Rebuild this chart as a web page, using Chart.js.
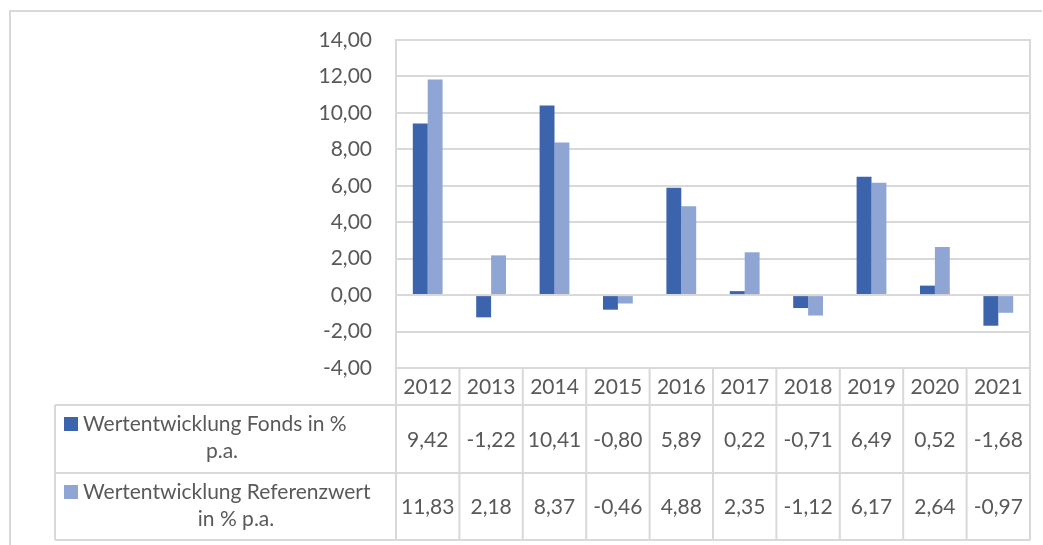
<!DOCTYPE html>
<html>
<head>
<meta charset="utf-8">
<script src="https://cdn.jsdelivr.net/npm/chart.js@4"></script>
<style>
  html, body { margin: 0; padding: 0; background: #fff; }
  #wrap { width: 1043px; height: 545px; position: relative; }
</style>
</head>
<body>
<div id="wrap"><canvas id="chart"></canvas></div>
<script>
// data
const years = ["2012", "2013", "2014", "2015", "2016", "2017", "2018", "2019", "2020", "2021"];
const fonds = [9.42, -1.22, 10.41, -0.80, 5.89, 0.22, -0.71, 6.49, 0.52, -1.68];
const referenz = [11.83, 2.18, 8.37, -0.46, 4.88, 2.35, -1.12, 6.17, 2.64, -0.97];
const seriesNames = [
  ["Wertentwicklung Fonds in %", "p.a."],
  ["Wertentwicklung Referenzwert", "in % p.a."],
];

const colDark = "#3c64ad";
const colLight = "#8fa6d5";
const gridCol = "#d9d9d9";
const textCol = "#595959";
const fontFam = "Lato, 'Open Sans', sans-serif";
const fontSize = 21;

const fmt = (v) => v.toFixed(2).replace(".", ",");

// draws the frame, plot border and the data table under the bars
const tablePlugin = {
  id: "dataTable",
  afterDraw(chart) {
    const ctx = chart.ctx;
    const area = chart.chartArea;
    const x = chart.scales.x;
    const colW = (area.right - area.left) / years.length;
    const legendLeft = 55;
    const rows = [area.bottom, 405, 473, 540];

    ctx.save();
    ctx.strokeStyle = gridCol;
    ctx.lineWidth = 2;

    // outer frame
    ctx.beginPath();
    ctx.moveTo(10, 545);
    ctx.lineTo(10, 11);
    ctx.lineTo(1042, 11);
    ctx.stroke();

    // plot border
    ctx.strokeRect(area.left, area.top, area.right - area.left, area.bottom - area.top);

    // table horizontal lines
    ctx.beginPath();
    for (let r = 1; r < rows.length; r++) {
      ctx.moveTo(legendLeft, rows[r]);
      ctx.lineTo(area.right, rows[r]);
    }
    // table vertical lines
    for (let i = 0; i <= years.length; i++) {
      const cx = area.left + i * colW;
      ctx.moveTo(cx, area.bottom);
      ctx.lineTo(cx, rows[3]);
    }
    ctx.moveTo(legendLeft, rows[1]);
    ctx.lineTo(legendLeft, rows[3]);
    ctx.stroke();

    // texts
    ctx.fillStyle = textCol;
    ctx.font = fontSize + "px " + fontFam;
    ctx.textAlign = "center";
    ctx.textBaseline = "middle";
    const series = [fonds, referenz];
    years.forEach((y, i) => {
      const cx = x.getPixelForValue(i);
      ctx.fillText(y, cx, (rows[0] + rows[1]) / 2 + 1);
      ctx.fillText(fmt(series[0][i]), cx, (rows[1] + rows[2]) / 2 + 1);
      ctx.fillText(fmt(series[1][i]), cx, (rows[2] + rows[3]) / 2 + 1);
    });

    // legend cells
    const keys = [colDark, colLight];
    const lineY = [[424, 451], [492, 519]];
    const line2X = [222, 236];
    seriesNames.forEach((name, s) => {
      ctx.fillStyle = keys[s];
      ctx.fillRect(64, lineY[s][0] - 7, 14, 14);
      ctx.fillStyle = textCol;
      ctx.textAlign = "left";
      ctx.fillText(name[0], 83, lineY[s][0]);
      ctx.textAlign = "center";
      ctx.fillText(name[1], line2X[s], lineY[s][1]);
    });
    ctx.restore();
  },
};

new Chart(document.getElementById("chart"), {
  type: "bar",
  data: {
    labels: years,
    datasets: [
      { label: seriesNames[0].join(" "), data: fonds, backgroundColor: colDark },
      { label: seriesNames[1].join(" "), data: referenz, backgroundColor: colLight },
    ],
  },
  options: {
    responsive: true,
    maintainAspectRatio: false,
    animation: false,
    layout: { padding: { top: 40, right: 13, bottom: 177, left: 0 } },
    datasets: { bar: { categoryPercentage: 0.47, barPercentage: 1 } },
    plugins: {
      legend: { display: false },
      tooltip: { enabled: false },
    },
    scales: {
      x: { display: false },
      y: {
        min: -4,
        max: 14,
        afterFit: (scale) => { scale.width = 396; },
        ticks: {
          stepSize: 2,
          padding: 24,
          color: textCol,
          font: { family: fontFam, size: fontSize },
          callback: (v) => fmt(v),
        },
        grid: { color: gridCol, lineWidth: 2, drawTicks: false },
        border: { display: false },
      },
    },
  },
  plugins: [tablePlugin],
});
</script>
</body>
</html>
